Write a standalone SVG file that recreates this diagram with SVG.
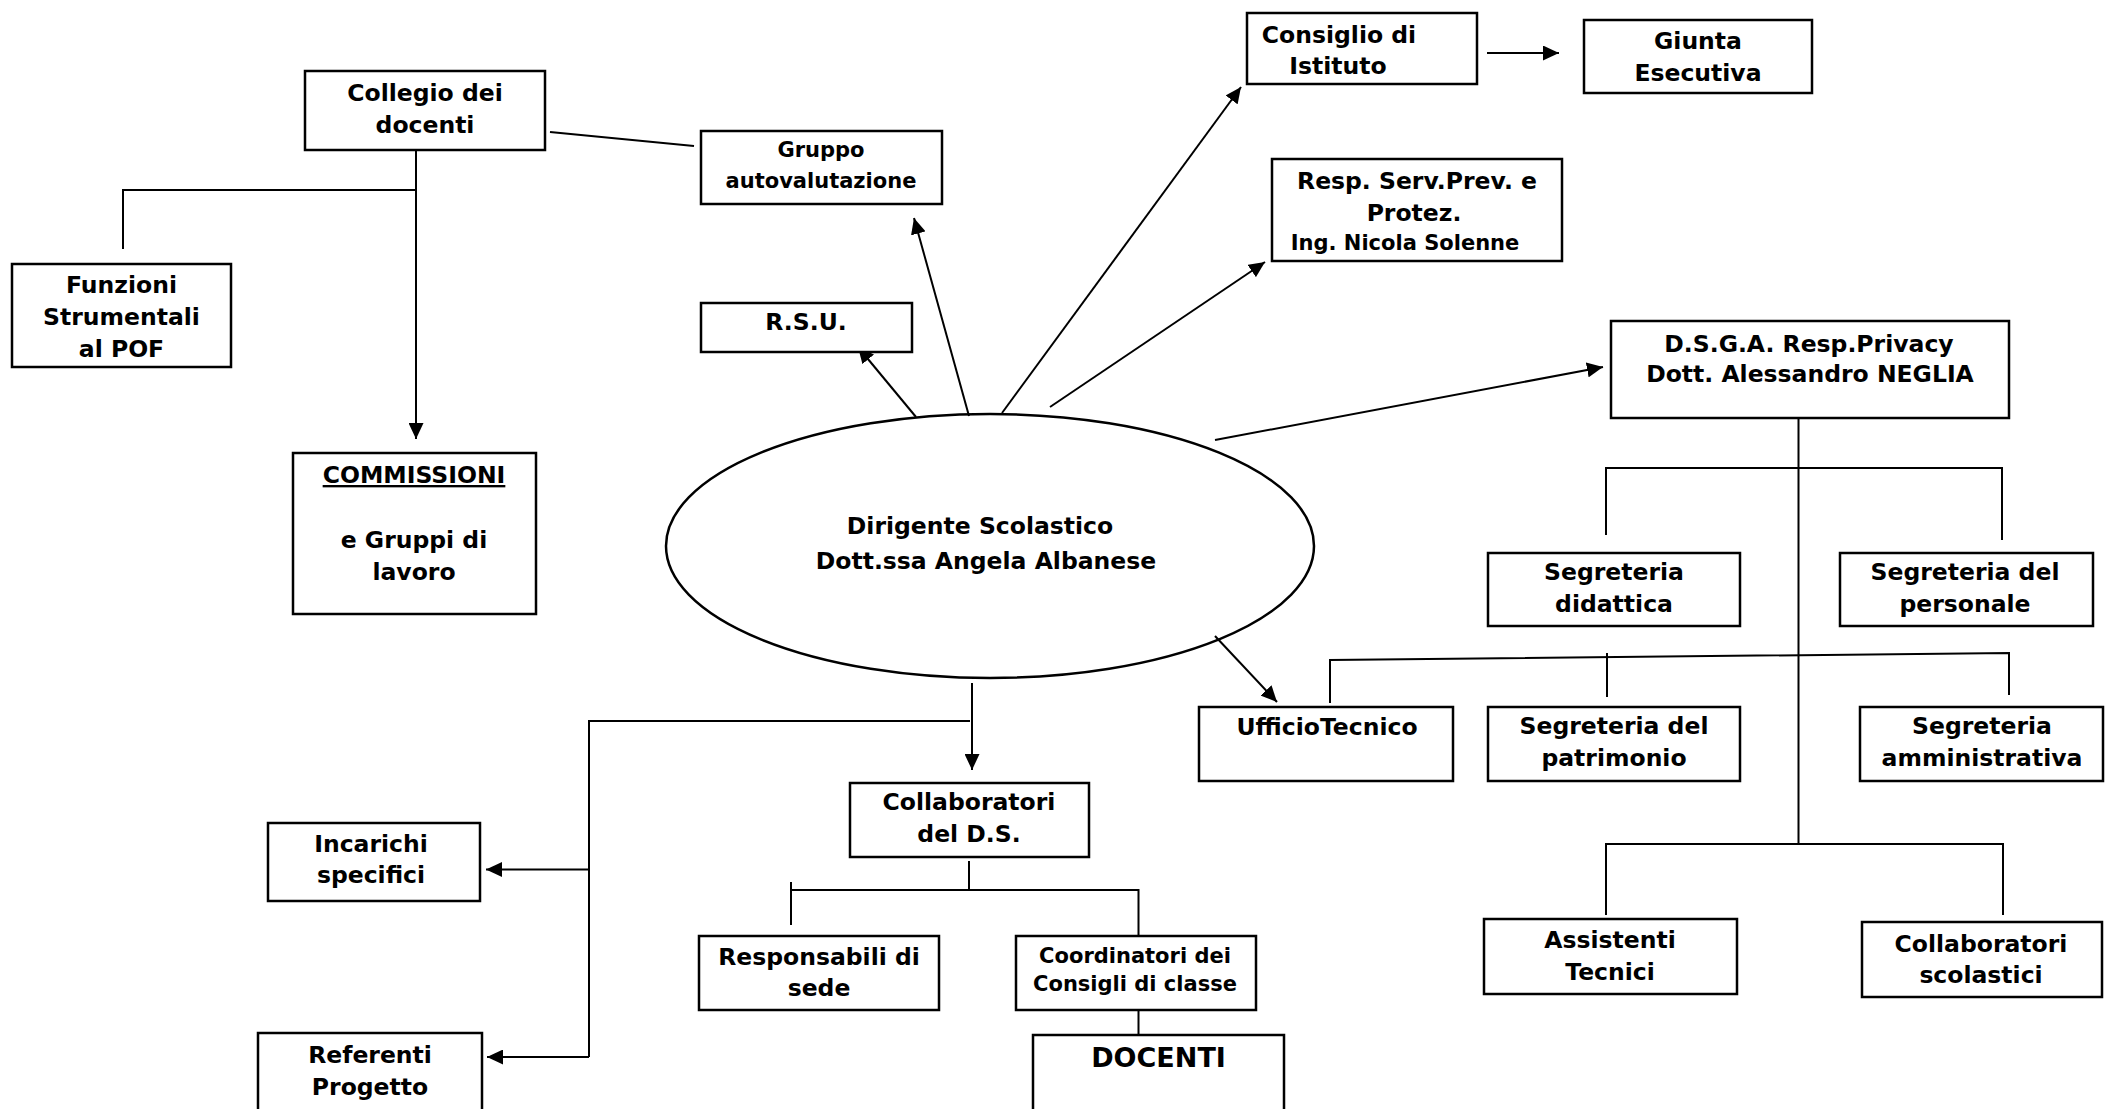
<svg xmlns="http://www.w3.org/2000/svg" width="2105" height="1109" viewBox="0 0 2105 1109">
<defs>
<marker id="arr" markerUnits="userSpaceOnUse" markerWidth="17" markerHeight="15" refX="16" refY="7.5" orient="auto">
<path d="M0,0 L16,7.5 L0,15 z" fill="#000"/>
</marker>
<style>
.box{fill:#fff;stroke:#000;stroke-width:2.5}
.t{font-family:"DejaVu Sans",Verdana,sans-serif;font-weight:bold;font-size:23.5px;fill:#000;text-anchor:middle}
.s{font-size:21px}
.c{fill:none;stroke:#000;stroke-width:2}
.a{fill:none;stroke:#000;stroke-width:2;marker-end:url(#arr)}
</style>
</defs>
<rect width="2105" height="1109" fill="#fff"/>

<g id="connectors">
<line class="c" x1="550" y1="132" x2="694" y2="146"/>
<line class="a" x1="416" y1="150" x2="416" y2="439"/>
<polyline class="c" points="416,190 123,190 123,249"/>
<line class="a" x1="916" y1="417" x2="858" y2="347"/>
<line class="a" x1="969" y1="416" x2="914" y2="218"/>
<line class="a" x1="1002" y1="413" x2="1241" y2="87"/>
<line class="a" x1="1050" y1="407" x2="1265" y2="262"/>
<line class="a" x1="1215" y1="440" x2="1603" y2="367"/>
<line class="a" x1="1487" y1="53" x2="1559" y2="53"/>
<line class="a" x1="1215" y1="636" x2="1277" y2="702"/>
<line class="c" x1="1798.5" y1="418" x2="1798.5" y2="844"/>
<polyline class="c" points="1606,535 1606,468 2002,468 2002,540"/>
<polyline class="c" points="1330,703 1330,660 2009,653 2009,695"/>
<line class="c" x1="1607" y1="653" x2="1607" y2="697"/>
<polyline class="c" points="1606,915 1606,844 2003,844 2003,915"/>
<line class="a" x1="972" y1="683" x2="972" y2="770"/>
<polyline class="c" points="970,721 589,721 589,1057"/>
<line class="a" x1="589" y1="869.5" x2="486" y2="869.5"/>
<line class="a" x1="589" y1="1057" x2="487" y2="1057"/>
<line class="c" x1="969" y1="861" x2="969" y2="890"/>
<polyline class="c" points="791,882 791,925"/>
<polyline class="c" points="791,890 1138.5,890 1138.5,936"/>
<line class="c" x1="1138.5" y1="1010" x2="1138.5" y2="1047"/>
</g>

<g id="dirigente">
<ellipse cx="990" cy="546" rx="324" ry="132" fill="none" stroke="#000" stroke-width="2.5"/>
<text class="t" x="980" y="534">Dirigente Scolastico</text>
<text class="t" x="986" y="569">Dott.ssa Angela Albanese</text>
</g>

<g id="collegio">
<rect class="box" x="305" y="71" width="240" height="79"/>
<text class="t" x="425" y="101">Collegio dei</text>
<text class="t" x="425" y="133">docenti</text>
</g>

<g id="funzioni">
<rect class="box" x="12" y="264" width="219" height="103"/>
<text class="t" x="121.5" y="293">Funzioni</text>
<text class="t" x="121.5" y="324.5">Strumentali</text>
<text class="t" x="121.5" y="357">al POF</text>
</g>

<g id="commissioni">
<rect class="box" x="293" y="453" width="243" height="161"/>
<text class="t" x="414" y="483" text-decoration="underline">COMMISSIONI</text>
<text class="t" x="414" y="548">e Gruppi di</text>
<text class="t" x="414" y="580">lavoro</text>
</g>

<g id="gruppo">
<rect class="box" x="701" y="131" width="241" height="73"/>
<text class="t s" x="821" y="157">Gruppo</text>
<text class="t s" x="821" y="188">autovalutazione</text>
</g>

<g id="rsu">
<rect class="box" x="701" y="303" width="211" height="49"/>
<text class="t" x="806" y="330">R.S.U.</text>
</g>

<g id="consiglio">
<rect class="box" x="1247" y="13" width="230" height="71"/>
<text class="t" x="1339" y="43">Consiglio di</text>
<text class="t" x="1338" y="74">Istituto</text>
</g>

<g id="giunta">
<rect class="box" x="1584" y="20" width="228" height="73"/>
<text class="t" x="1698" y="49">Giunta</text>
<text class="t" x="1698" y="81">Esecutiva</text>
</g>

<g id="resp">
<rect class="box" x="1272" y="159" width="290" height="102"/>
<text class="t" x="1417" y="189">Resp. Serv.Prev. e</text>
<text class="t" x="1414" y="220.5">Protez.</text>
<text class="t s" x="1405" y="250">Ing. Nicola Solenne</text>
</g>

<g id="dsga">
<rect class="box" x="1611" y="321" width="398" height="97"/>
<text class="t" x="1809" y="352">D.S.G.A. Resp.Privacy</text>
<text class="t" x="1810" y="382">Dott. Alessandro NEGLIA</text>
</g>

<g id="segr-didattica">
<rect class="box" x="1488" y="553" width="252" height="73"/>
<text class="t" x="1614" y="580">Segreteria</text>
<text class="t" x="1614" y="612">didattica</text>
</g>

<g id="segr-personale">
<rect class="box" x="1840" y="553" width="253" height="73"/>
<text class="t" x="1965" y="580">Segreteria del</text>
<text class="t" x="1965" y="612">personale</text>
</g>

<g id="ufficio-tecnico">
<rect class="box" x="1199" y="707" width="254" height="74"/>
<text class="t" x="1327" y="735">UfficioTecnico</text>
</g>

<g id="segr-patrimonio">
<rect class="box" x="1488" y="707" width="252" height="74"/>
<text class="t" x="1614" y="734">Segreteria del</text>
<text class="t" x="1614" y="766">patrimonio</text>
</g>

<g id="segr-amministrativa">
<rect class="box" x="1860" y="707" width="243" height="74"/>
<text class="t" x="1982" y="734">Segreteria</text>
<text class="t" x="1982" y="766">amministrativa</text>
</g>

<g id="assistenti">
<rect class="box" x="1484" y="919" width="253" height="75"/>
<text class="t" x="1610" y="948">Assistenti</text>
<text class="t" x="1610" y="980">Tecnici</text>
</g>

<g id="collab-scolastici">
<rect class="box" x="1862" y="922" width="240" height="75"/>
<text class="t" x="1981" y="951.5">Collaboratori</text>
<text class="t" x="1981" y="983">scolastici</text>
</g>

<g id="collab-ds">
<rect class="box" x="850" y="783" width="239" height="74"/>
<text class="t" x="969" y="810">Collaboratori</text>
<text class="t" x="969" y="842">del D.S.</text>
</g>

<g id="incarichi">
<rect class="box" x="268" y="823" width="212" height="78"/>
<text class="t" x="371" y="852">Incarichi</text>
<text class="t" x="371" y="883">specifici</text>
</g>

<g id="referenti">
<rect class="box" x="258" y="1033" width="224" height="84"/>
<text class="t" x="370" y="1063">Referenti</text>
<text class="t" x="370" y="1095">Progetto</text>
</g>

<g id="responsabili">
<rect class="box" x="699" y="936" width="240" height="74"/>
<text class="t" x="819" y="965">Responsabili di</text>
<text class="t" x="819" y="996">sede</text>
</g>

<g id="coordinatori">
<rect class="box" x="1016" y="936" width="240" height="74"/>
<text class="t s" x="1135" y="963">Coordinatori dei</text>
<text class="t s" x="1135" y="991">Consigli di classe</text>
</g>

<g id="docenti">
<rect class="box" x="1033" y="1035" width="251" height="90" fill="none"/>
<text class="t" x="1158.5" y="1067" style="font-size:27px">DOCENTI</text>
</g>
</svg>
